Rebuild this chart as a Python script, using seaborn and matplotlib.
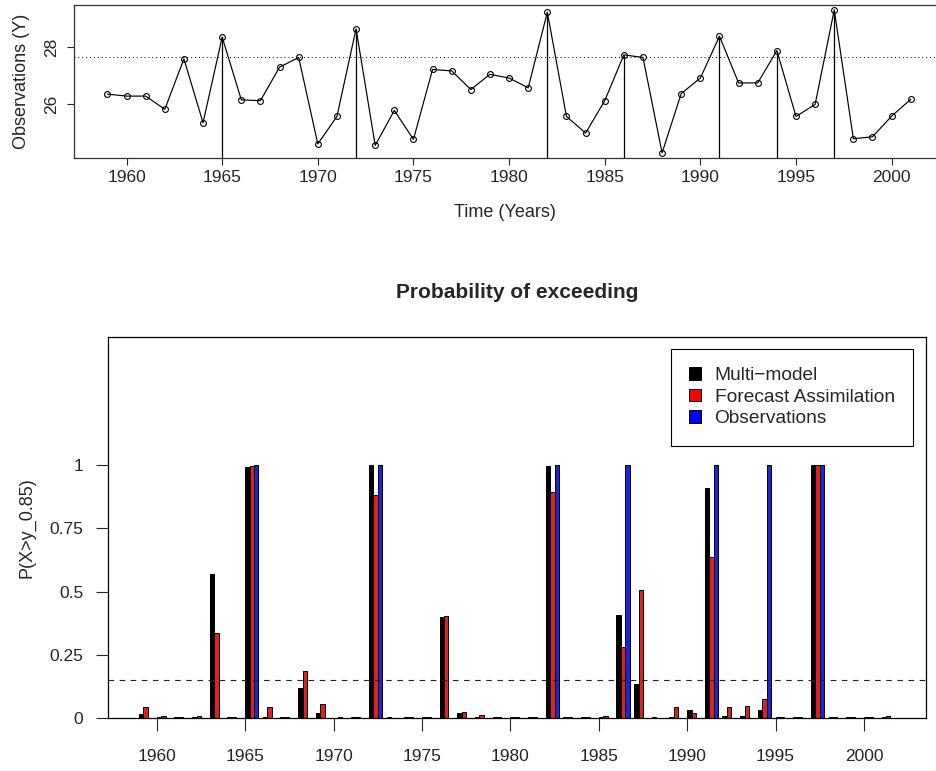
# Observaciones anuales y probabilidad de exceder el percentil 0.85

import numpy as np
import pandas as pd
import seaborn as sns
import matplotlib.pyplot as plt
from matplotlib.patches import Patch

# Datos
years = list(range(1959, 2002))
obs = [26.36, 26.29, 26.29, 25.83, 27.59, 25.36, 28.35, 26.16, 26.13, 27.30,
       27.64, 24.62, 25.58, 28.64, 24.57, 25.79, 24.78, 27.22, 27.17, 26.52,
       27.05, 26.92, 26.58, 29.22, 25.58, 25.00, 26.13, 27.73, 27.64, 24.31,
       26.38, 26.92, 28.38, 26.75, 26.75, 27.88, 25.58, 26.00, 29.30, 24.80,
       24.87, 25.59, 26.18]
threshold = 27.66
prob_threshold = 0.15

multi_model = [0.016, 0.005, 0.005, 0.005, 0.570, 0.004, 0.992, 0.004, 0.004, 0.120,
               0.020, 0.002, 0.004, 1.000, 0.004, 0.004, 0.004, 0.399, 0.020, 0.005,
               0.004, 0.004, 0.004, 0.997, 0.004, 0.004, 0.004, 0.409, 0.134, 0.004,
               0.004, 0.034, 0.910, 0.009, 0.010, 0.034, 0.004, 0.004, 1.000, 0.004,
               0.004, 0.004, 0.004]
forecast_assim = [0.043, 0.009, 0.005, 0.009, 0.338, 0.004, 0.996, 0.043, 0.004, 0.187,
                  0.058, 0.004, 0.004, 0.882, 0.002, 0.004, 0.004, 0.403, 0.024, 0.013,
                  0.004, 0.004, 0.004, 0.892, 0.004, 0.004, 0.009, 0.280, 0.506, 0.000,
                  0.043, 0.020, 0.636, 0.043, 0.047, 0.076, 0.004, 0.004, 1.000, 0.004,
                  0.004, 0.004, 0.009]
observed_exc = [0, 0, 0, 0, 0, 0, 1, 0, 0, 0,
                0, 0, 0, 1, 0, 0, 0, 0, 0, 0,
                0, 0, 0, 1, 0, 0, 0, 1, 0, 0,
                0, 0, 1, 0, 0, 1, 0, 0, 1, 0,
                0, 0, 0]

labels = ["Multi\u2212model", "Forecast Assimilation", "Observations"]
colors = ["black", "red", "blue"]
xticks = list(range(1960, 2001, 5))
yticks_prob = [0, 0.25, 0.5, 0.75, 1]
yticks_prob_lbl = ["0", "0.25", "0.5", "0.75", "1"]

sns.set_style("white")
plt.rcParams['font.family'] = ['Liberation Sans', 'DejaVu Sans']
plt.rcParams['font.size'] = 12.5

fig = plt.figure(figsize=(9.36, 7.71), dpi=100)

# Panel superior: serie de observaciones
ax1 = fig.add_axes([0.0794, 0.7951, 0.9206, 0.1984])
sns.lineplot(x=years, y=obs, ax=ax1, color="black", lw=0.85, marker="o",
             markersize=4.2, markerfacecolor="none", markeredgecolor="black",
             markeredgewidth=0.8)
y_lo, y_hi = 24.13, 29.47
for yr, v, e in zip(years, obs, observed_exc):
    if e:
        ax1.vlines(yr, y_lo, v, color="black", lw=0.9)
ax1.axhline(threshold, color="black", lw=0.7, linestyle=(0, (1, 3)))
ax1.set_xlim(1957.27, 2002.32)
ax1.set_ylim(y_lo, y_hi)
ax1.set_xticks(xticks)
ax1.set_yticks([26, 28])
ax1.tick_params(axis="both", direction="out", length=5, width=0.8,
                labelsize=12.5, bottom=True, left=True)
ax1.tick_params(axis="x", pad=4)
ax1.tick_params(axis="y", pad=6, labelrotation=90)
for lbl in ax1.get_yticklabels():
    lbl.set_va("center")
ax1.set_xlabel("Time (Years)", fontsize=13, labelpad=13)
ax1.set_ylabel("Observations (Y)", fontsize=13, labelpad=10)
for s in ["left", "top", "bottom"]:
    ax1.spines[s].set_color("#333333")
    ax1.spines[s].set_linewidth(0.9)
ax1.spines["right"].set_visible(False)

# Panel inferior: probabilidad de exceder
df = pd.concat([
    pd.DataFrame({"year": years, "prob": vals, "source": name})
    for name, vals in zip(labels, [multi_model, forecast_assim, observed_exc])
])
df["pos"] = df["year"] + 0.375

ax2 = fig.add_axes([0.1157, 0.0684, 0.8736, 0.4942])
sns.barplot(data=df, x="pos", y="prob", hue="source", hue_order=labels,
            palette=colors, native_scale=True, width=0.75, dodge=True,
            edgecolor="black", linewidth=0.7, errorbar=None, legend=False,
            ax=ax2)
ax2.axhline(prob_threshold, color="#222222", lw=0.8, linestyle=(0, (5, 5)))
ax2.set_xlim(1957.26, 2003.51)
ax2.set_ylim(0, 1.504)
ax2.set_xticks(xticks)
ax2.set_xticklabels([str(t) for t in xticks])
ax2.set_yticks(yticks_prob)
ax2.set_yticklabels(yticks_prob_lbl)
ax2.tick_params(axis="both", direction="out", length=9, width=0.8,
                labelsize=12.5, bottom=True, left=True)
ax2.tick_params(axis="x", pad=13)
ax2.tick_params(axis="y", pad=9)
ax2.set_xlabel("")
ax2.set_ylabel("P(X>y_0.85)", fontsize=13, labelpad=10)
ax2.set_title("Probability of exceeding", fontsize=15, fontweight="bold", pad=28)
for s in ax2.spines.values():
    s.set_color("black")
    s.set_linewidth(0.9)

handles = [Patch(facecolor=c, edgecolor="black", linewidth=0.7) for c in colors]
leg = ax2.legend(handles, labels, loc="upper right", bbox_to_anchor=(0.984, 0.969),
                 borderaxespad=0, fontsize=13.8, frameon=True, fancybox=False,
                 framealpha=1, edgecolor="black", handlelength=0.62,
                 handleheight=0.62, handletextpad=0.7, labelspacing=0.24,
                 borderpad=0.95)
leg.get_frame().set_linewidth(0.8)

fig.savefig("out.png", dpi=100)
